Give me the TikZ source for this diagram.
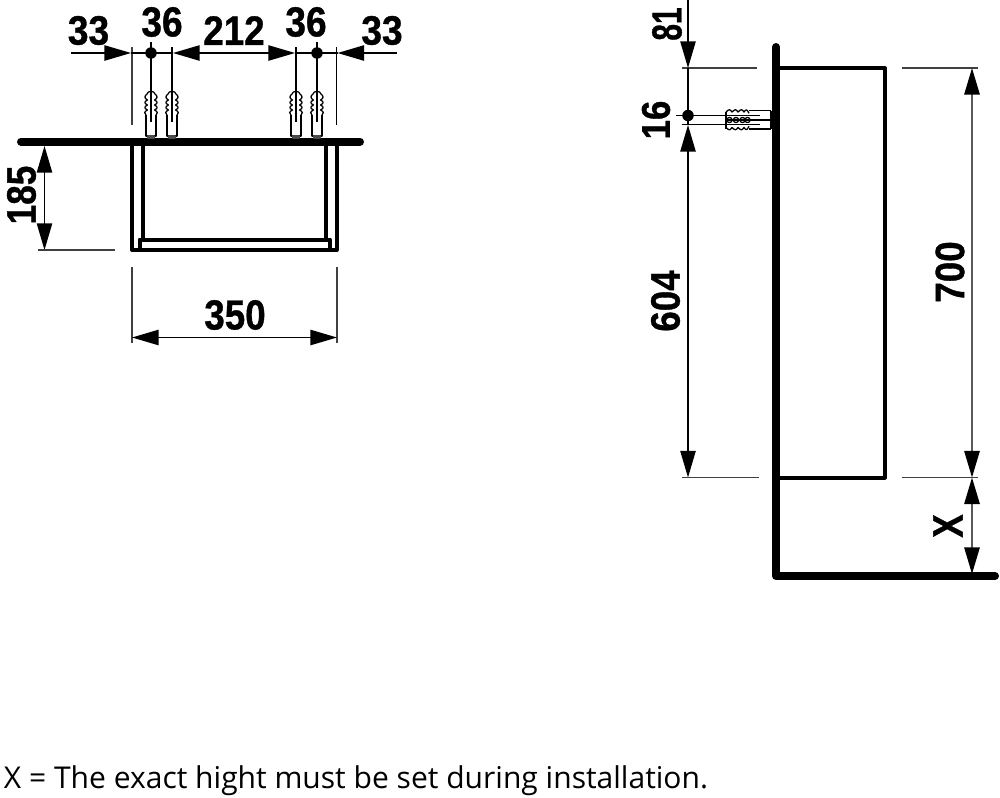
\documentclass[tikz,border=0pt]{standalone}
\usepackage{fontspec}
\usepackage{graphicx}
\usetikzlibrary{arrows.meta}
\setmainfont{Open Sans}
\newfontfamily\dimfont[FakeBold=0.9]{Liberation Sans Bold}
\newcommand{\dimtxt}[3]{\resizebox{#1pt}{#2pt}{\dimfont #3}}
\tikzset{
  x=0.75pt,y=-0.75pt,
  thick line/.style={line width=6pt,line cap=round,line join=round,black},
  box line/.style={line width=3pt,line join=round,black},
  ext line/.style={line width=1.1pt,black!75},
  ref line/.style={line width=1pt,black},
  dim arrow/.style={line width=1.1pt,black,{Triangle[length=20pt,width=11.5pt]}-{Triangle[length=20pt,width=11.5pt]}},
  dim end/.style={line width=1.1pt,black,-{Triangle[length=20pt,width=11.5pt]}},
  dim both gray/.style={line width=1.5pt,black!65,{Triangle[length=20pt,width=11.5pt,black]}-{Triangle[length=20pt,width=11.5pt,black]}},
  dowel line/.style={line width=0.95pt,black,line join=round},
  dot/.style={circle,fill=black,inner sep=0pt,minimum size=8.6pt},
  label box/.style={inner sep=0pt,outer sep=0pt},
  dowel/.pic={
    \draw[dowel line] (-5,0) -- (-5,21) -- (5,21) -- (5,0);
    \draw[dowel line] (-5,0) .. controls (-7,-2) and (-7,-3) .. (-3.6,-5)
      .. controls (-7,-7) and (-7,-8) .. (-3.6,-10)
      .. controls (-7,-12) and (-7,-13) .. (-3.6,-15)
      .. controls (-7,-17) and (-6.5,-19) .. (-4,-21)
      .. controls (-3.5,-24.5) and (3.5,-24.5) .. (4,-21)
      .. controls (6.5,-19) and (7,-17) .. (3.6,-15)
      .. controls (7,-13) and (7,-12) .. (3.6,-10)
      .. controls (7,-8) and (7,-7) .. (3.6,-5)
      .. controls (7,-3) and (7,-2) .. (5,0);
    \draw[dowel line,black!70] (-3,21) rectangle (3,23);
  }
}
\begin{document}
\begin{tikzpicture}
\useasboundingbox (0,0) rectangle (1000,797);
\fill[white] (0,0) rectangle (1000,797);

% ---------- left view ----------
\coordinate (wallL) at (21,141.5);
\coordinate (wallR) at (360,141.5);
\draw[thick line] (wallL) -- (wallR);
\draw[box line] (132,141.5) -- (132,250) -- (336.5,250) -- (336.5,141.5);
\draw[box line] (143,141.5) -- (143,239.5);
\draw[box line] (326,141.5) -- (326,239.5);
\draw[box line] (139.5,250) -- (139.5,239.5) -- (330,239.5) -- (330,250);

\foreach \c in {151,172,296,317} {
  \pic at (\c,115) {dowel};
}

% extension lines, top
\coordinate (e1t) at (132,47);   \coordinate (e1b) at (132,125);
\coordinate (e2t) at (151,42);   \coordinate (e2b) at (151,122);
\coordinate (e3t) at (172,47);   \coordinate (e3b) at (172,122);
\coordinate (e4t) at (296,47);   \coordinate (e4b) at (296,122);
\coordinate (e5t) at (317,42);   \coordinate (e5b) at (317,122);
\coordinate (e6t) at (336.5,47); \coordinate (e6b) at (336.5,125);
\draw[ext line] (e1t) -- (e1b);
\draw[ref line] (e2t) -- (e2b);
\draw[ref line] (e3t) -- (e3b);
\draw[ref line] (e4t) -- (e4b);
\draw[ref line] (e5t) -- (e5b);
\draw[ref line] (e6t) -- (e6b);

% top dimension line
\coordinate (a1s) at (71,53);   \coordinate (a1e) at (131,53);
\coordinate (a2s) at (173,53);  \coordinate (a2e) at (295,53);
\coordinate (a3s) at (397,53);  \coordinate (a3e) at (337.5,53);
\draw[dim end] (a1s) -- (a1e);
\draw[dim arrow] (a2s) -- (a2e);
\draw[dim end] (a3s) -- (a3e);
\draw[ref line] (a1e) -- (a2s);
\draw[ref line] (a2e) -- (a3e);
\node[dot] (d1) at (151,53) {};
\node[dot] (d2) at (317,53) {};

% 185
\coordinate (h1) at (44.5,146); \coordinate (h2) at (44.5,250);
\draw[dim arrow] (h1) -- (h2);
\coordinate (h3) at (38,250); \coordinate (h4) at (115,250);
\draw[ext line] (h3) -- (h4);

% 350
\coordinate (w1t) at (132,267); \coordinate (w1b) at (132,343);
\coordinate (w2t) at (337,267); \coordinate (w2b) at (337,343);
\draw[ext line] (w1t) -- (w1b);
\draw[ext line] (w2t) -- (w2b);
\draw[dim arrow] (132,337.5) -- (337,337.5);

% ---------- right view ----------
\draw[box line] (776,68) -- (884.5,68) -- (884.5,477.5) -- (776,477.5);
\coordinate (wtop) at (776,47);
\coordinate (wcor) at (776,576);
\coordinate (fend) at (995,576);
\draw[thick line] (wtop) -- (wcor) -- (fend);

% dowel, side view
\draw[dowel line] (771,110.7) -- (749,110.7);
\draw[dowel line] (771,129) -- (749,129);
\draw[dowel line] (771,110.7) -- (771,129);
\draw[dowel line] (726,120) -- (771,120);
\draw[dowel line] (726,111.5) -- (726,128.5);
\foreach \yy/\s in {112/-1,127.5/1} {
  \draw[dowel line] (726,\yy) .. controls (729,\yy+\s*3) and (730,\yy+\s*3) .. (732,\yy)
    .. controls (735,\yy+\s*3) and (736,\yy+\s*3) .. (738,\yy)
    .. controls (741,\yy+\s*3) and (742,\yy+\s*3) .. (744,\yy)
    .. controls (746,\yy+\s*3) and (747,\yy+\s*3) .. (749,\yy-\s*1.3);
}
\foreach \c in {729.5,736,742.5,747.5} {
  \draw[dowel line] (\c,120) circle (2.6);
}

% extension lines, right view
\draw[ext line] (682,68) -- (757,68);
\draw[ext line] (902,68) -- (978,68);
\draw[ext line] (682,477.5) -- (759,477.5);
\draw[ext line] (902,477.5) -- (978,477.5);
\draw[ref line] (676,115.5) -- (760,115.5);
\draw[ref line] (682,124.7) -- (760,124.7);

% left dimension chain
\coordinate (v0) at (688,0);
\coordinate (v1) at (688,68);
\coordinate (v2) at (688,125);
\coordinate (v3) at (688,477.5);
\draw[dim end] (v0) -- (v1);
\draw[dim arrow] (v2) -- (v3);
\draw[ref line] (v1) -- (v2);
\node[dot] (d3) at (688,115.5) {};

% right dimension chain
\coordinate (r1) at (972,68);
\coordinate (r2) at (972,477.5);
\coordinate (r3) at (972,574);
\draw[dim both gray] (r1) -- (r2);
\draw[dim both gray] (r2) -- (r3);

% ---------- labels ----------
\node[label box] (t33a) at (88.5,30.5) {\dimtxt{31}{21.5}{33}};
\node[label box] (t36a) at (162,22) {\dimtxt{31}{22}{36}};
\node[label box] (t212) at (234,30.5) {\dimtxt{46}{21.5}{212}};
\node[label box] (t36b) at (306,22) {\dimtxt{31}{22}{36}};
\node[label box] (t33b) at (382,30.5) {\dimtxt{31}{21.5}{33}};
\node[label box] (t350) at (235,315) {\dimtxt{46}{22}{350}};
\node[label box,rotate=90] (t185) at (21.5,195) {\dimtxt{44}{21.5}{185}};
\node[label box,rotate=90] (t81) at (667,24) {\dimtxt{25}{22}{81}};
\node[label box,rotate=90] (t16) at (656,120) {\dimtxt{29}{21}{16}};
\node[label box,rotate=90] (t604) at (665.5,301) {\dimtxt{46}{21.5}{604}};
\node[label box,rotate=90] (t700) at (950,272) {\dimtxt{46}{21.5}{700}};
\node[label box,rotate=90] (tX) at (948,526) {\dimtxt{17.5}{22}{X}};

\node[label box,anchor=base west] (note) at (4,788)
  {\resizebox{528pt}{!}{\fontsize{22pt}{26pt}\selectfont X = The exact hight must be set during installation.}};
\end{tikzpicture}
\end{document}
